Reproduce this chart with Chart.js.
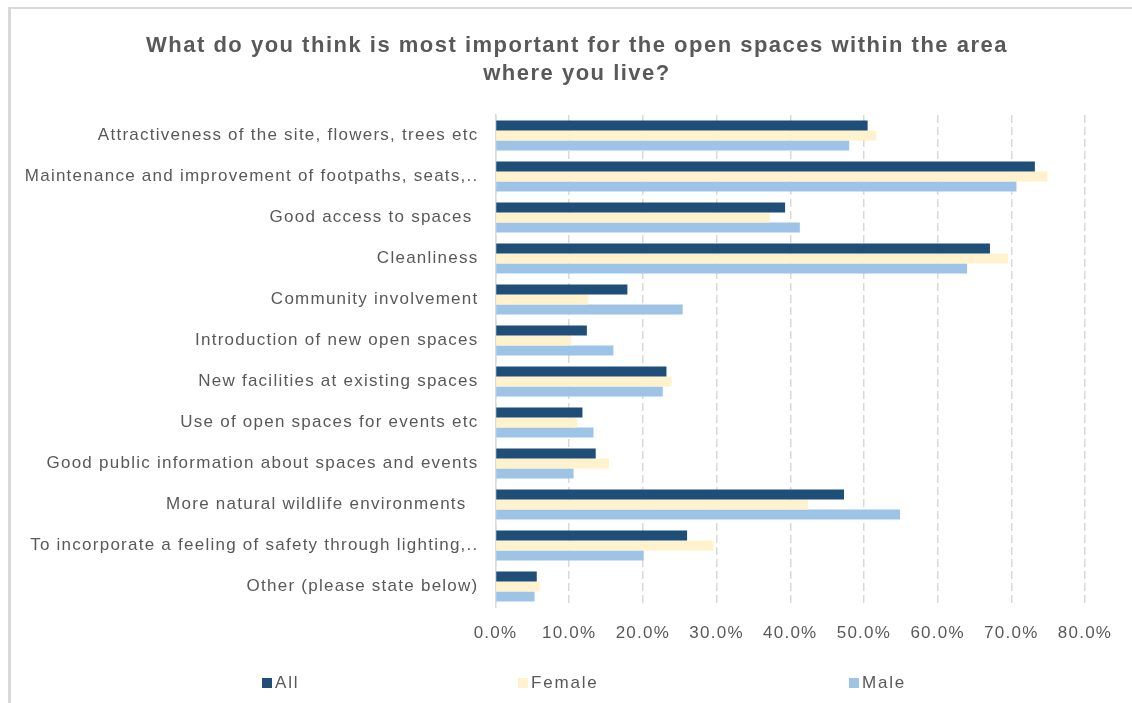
<!DOCTYPE html>
<html>
<head>
<meta charset="utf-8">
<script src="https://cdn.jsdelivr.net/npm/chart.js@4.4.1/dist/chart.umd.min.js"></script>
<style>
  html, body { margin: 0; padding: 0; background: #fff; }
  #wrap { position: relative; width: 1132px; height: 703px; overflow: hidden; }
  #frame { position: absolute; left: 8px; top: 7px; width: 1140px; height: 720px; border-top: 2px solid #d9d9d9; border-left: 3px solid #d9d9d9; pointer-events: none; }
  #title { position: absolute; left: 77px; width: 1000px; top: 31px; text-align: center; font: bold 22px/28px "Liberation Sans", Arial, sans-serif; letter-spacing: 1.5px; color: #595959; }
  .leg { position: absolute; top: 673px; font: 17px "Liberation Sans", Arial, sans-serif; letter-spacing: 1.8px; color: #595959; display: flex; align-items: center; }
  .leg i { display: inline-block; width: 10px; height: 10px; margin-right: 3px; }
</style>
</head>
<body>
<div id="wrap">
  <canvas id="chart" width="1132" height="703"></canvas>
  <div id="frame"></div>
  <div id="title">What do you think is most important for the open spaces within the area<br>where you live?</div>
  <div id="legend"></div>
</div>
<script>
// Survey answers, share of respondents per group
const categories = [
    'Attractiveness of the site, flowers, trees etc',
    'Maintenance and improvement of footpaths, seats,..',
    'Good access to spaces ',
    'Cleanliness',
    'Community involvement',
    'Introduction of new open spaces',
    'New facilities at existing spaces',
    'Use of open spaces for events etc',
    'Good public information about spaces and events',
    'More natural wildlife environments  ',
    'To incorporate a feeling of safety through lighting,..',
    'Other (please state below)'
];
const allValues    = [50.5, 73.2, 39.3, 67.1, 17.9, 12.4, 23.2, 11.8, 13.6, 47.3, 26.0, 5.6];
const femaleValues = [51.7, 74.9, 37.2, 69.6, 12.6, 10.3, 23.9, 11.1, 15.4, 42.4, 29.6, 6.0];
const maleValues   = [48.0, 70.7, 41.3, 64.0, 25.4, 16.0, 22.7, 13.3, 10.6, 54.9, 20.1, 5.3];
const xTicks = [0, 10, 20, 30, 40, 50, 60, 70, 80];

const seriesNames = ['All', 'Female', 'Male'];
const seriesColors = ['#1f4e79', '#fff2cc', '#9dc3e6'];
const legendLeft = [262, 518, 849];

const fontFamily = '"Liberation Sans", Arial, sans-serif';
const textColor = '#595959';

// wider letter spacing for every text drawn on the canvas
const spacingPlugin = {
    id: 'spacing',
    beforeUpdate: (chart) => { chart.ctx.letterSpacing = '1.25px'; },
    beforeDraw: (chart) => { chart.ctx.letterSpacing = '1.25px'; },
};

const ctx = document.getElementById('chart').getContext('2d');
const chart = new Chart(ctx, {
    type: 'bar',
    plugins: [spacingPlugin],
    data: {
        labels: categories,
        datasets: [allValues, femaleValues, maleValues].map((values, i) => ({
            label: seriesNames[i],
            data: values,
            backgroundColor: seriesColors[i],
            borderWidth: 0,
            categoryPercentage: 0.73,
            barPercentage: 1.0,
        })),
    },
    options: {
        responsive: false,
        animation: false,
        indexAxis: 'y',
        // top padding leaves room for the two-line title above
        layout: { padding: { left: 10, right: 47, top: 115, bottom: 60 } },
        plugins: {
            legend: { display: false },
            tooltip: { enabled: false },
            title: { display: false },
        },
        scales: {
            x: {
                min: 0,
                max: 80,
                afterBuildTicks: (scale) => {
                    scale.ticks = xTicks.map(v => ({ value: v }));
                },
                afterFit: (scale) => { scale.height = 36; },
                ticks: {
                    color: textColor,
                    font: { family: fontFamily, size: 17 },
                    padding: 16,
                    callback: (v) => v.toFixed(1) + '%',
                },
                grid: { color: '#d9d9d9', lineWidth: 1.5, drawTicks: false },
                border: { display: false, dash: [8, 4] },
            },
            y: {
                afterFit: (scale) => { scale.width = 485.5; },
                ticks: {
                    color: textColor,
                    font: { family: fontFamily, size: 17 },
                    padding: 9,
                },
                grid: { display: false },
                border: { display: true, color: '#d9d9d9', width: 1.5 },
            },
        },
    },
});

// Legend laid out in wide slots under the chart
const legend = document.getElementById('legend');
seriesNames.forEach((name, i) => {
    const item = document.createElement('div');
    item.className = 'leg';
    item.style.left = legendLeft[i] + 'px';
    item.innerHTML = '<i style="background:' + seriesColors[i] + '"></i>' + name;
    legend.appendChild(item);
});
</script>
</body>
</html>
